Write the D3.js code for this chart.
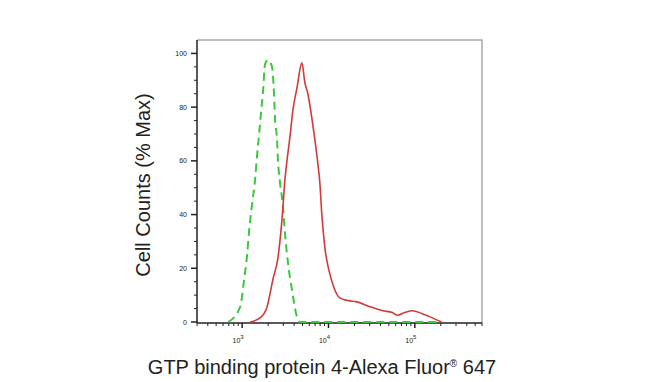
<!DOCTYPE html>
<html>
<head>
<meta charset="utf-8">
<script src="https://cdn.jsdelivr.net/npm/d3@7"></script>
<style>
  body { margin: 0; background: #fff; }
  text { font-family: "Liberation Sans", Arial, sans-serif; }
</style>
</head>
<body>
<script>
const svgWidth = 650;
const svgHeight = 382;

// red: stained sample (intensity, % max)
const redX = [1236, 1614, 1942, 2279, 2602, 2891, 3133, 3304, 3581, 3875, 4307, 4920, 5332, 5773, 6415, 6950,
    7530, 7940, 8375, 9060, 10350, 11820, 13500, 16700, 21380, 30200, 42660, 54950, 63100, 75860, 93300,
    120200, 147900, 204200];
const redY = [0, 1.5, 5.6, 16, 24, 38, 53, 60, 69, 79, 87, 96.5, 89, 85, 76, 68,
    59, 52, 40, 28, 18, 12, 9, 8, 7.5, 5.7, 4.2, 3.5, 2.5, 3.5, 4.2,
    3.2, 2, 0];

// green dashed: isotype control
const greenX = [690, 949, 1055, 1142, 1205, 1304, 1412, 1489, 1571, 1656, 1746, 1841, 1995, 2218, 2339, 2402,
    2535, 2602, 2743, 2972, 3133, 3396, 3776, 4307, 4667, 20000, 200000];
const greenY = [0, 5.6, 16, 25, 34, 44, 53, 62, 70, 78, 86, 96, 97.5, 95, 85, 76,
    68, 60, 52, 43, 33, 22, 12, 2, 0, 0, 0];

const yTicks = [0, 20, 40, 60, 80, 100];
const xTicks = [1000, 10000, 100000];
const xTickExp = ["3", "4", "5"];

const plotLeft = 197, plotRight = 482, plotTop = 40, plotBottom = 323;

const svg = d3.select("body").append("svg").attr("width", svgWidth).attr("height", svgHeight);

const x = d3.scaleLog().domain([300, 600000]).range([plotLeft, plotRight]);
const y = d3.scaleLinear().domain([0, 105]).range([322, plotTop]);

// frame (top & right, grey)
svg.append("polyline")
    .attr("points", [plotLeft, plotTop, plotRight, plotTop, plotRight, plotBottom].join(","))
    .attr("fill", "none")
    .attr("stroke", "#a8a8a8")
    .attr("stroke-width", 1.5);

// y axis
const yMinor = d3.range(0, 101, 5);
svg.selectAll(".ytick").data(yMinor).join("line")
    .attr("x1", plotLeft)
    .attr("x2", d => d % 20 === 0 ? plotLeft - 6 : plotLeft - 3)
    .attr("y1", d => y(d))
    .attr("y2", d => y(d))
    .attr("stroke", "#222")
    .attr("stroke-width", d => d % 20 === 0 ? 1.5 : 1);

svg.selectAll(".ylab").data(yTicks).join("text")
    .attr("x", plotLeft - 10)
    .attr("y", d => y(d) + 2.5)
    .attr("text-anchor", "end")
    .attr("font-size", 7)
    .attr("fill", "#222")
    .text(d => d);

svg.append("line")
    .attr("x1", plotLeft).attr("x2", plotLeft)
    .attr("y1", plotTop).attr("y2", plotBottom)
    .attr("stroke", "#222").attr("stroke-width", 1.5);

// x axis
const xMinor = [];
[100, 1000, 10000, 100000].forEach(function (dec) {
    for (let m = 1; m < 10; m++) {
        const v = dec * m;
        if (v >= 300 && v <= 600000) xMinor.push(v);
    }
});

svg.selectAll(".xtick").data(xMinor).join("line")
    .attr("x1", d => x(d))
    .attr("x2", d => x(d))
    .attr("y1", plotBottom)
    .attr("y2", d => xTicks.includes(d) ? plotBottom + 5 : plotBottom + 3)
    .attr("stroke", "#222")
    .attr("stroke-width", d => xTicks.includes(d) ? 1.5 : 1);

svg.append("line")
    .attr("x1", plotLeft).attr("x2", plotRight)
    .attr("y1", plotBottom).attr("y2", plotBottom)
    .attr("stroke", "#222").attr("stroke-width", 1.5);

const xl = svg.selectAll(".xlab").data(xTicks).join("text")
    .attr("x", d => x(d) - 4)
    .attr("y", 343)
    .attr("text-anchor", "middle")
    .attr("font-size", 7)
    .attr("fill", "#222");
xl.append("tspan").text("10");
xl.append("tspan").attr("dy", -4).attr("font-size", 6).text((d, i) => xTickExp[i]);

// curves
const line = d3.line()
    .x(d => x(d[0]))
    .y(d => y(d[1]))
    .curve(d3.curveMonotoneX);

svg.append("path")
    .datum(greenX.map((v, i) => [v, greenY[i]]))
    .attr("d", line)
    .attr("fill", "none")
    .attr("stroke", "#3cc83c")
    .attr("stroke-width", 2)
    .attr("stroke-dasharray", "8,5");

svg.append("path")
    .datum(redX.map((v, i) => [v, redY[i]]))
    .attr("d", line)
    .attr("fill", "none")
    .attr("stroke", "#d23a3a")
    .attr("stroke-width", 1.6);

// axis titles
const xt = svg.append("text")
    .attr("x", 322)
    .attr("y", 374)
    .attr("text-anchor", "middle")
    .attr("font-size", 20)
    .attr("fill", "#222");
xt.append("tspan").text("GTP binding protein 4-Alexa Fluor");
xt.append("tspan").attr("font-size", 10).attr("dy", -7).text("®");
xt.append("tspan").attr("dy", 7).text(" 647");

svg.append("text")
    .attr("transform", "translate(150,185) rotate(-90)")
    .attr("text-anchor", "middle")
    .attr("font-size", 20)
    .attr("fill", "#222")
    .text("Cell Counts (% Max)");
</script>
</body>
</html>
